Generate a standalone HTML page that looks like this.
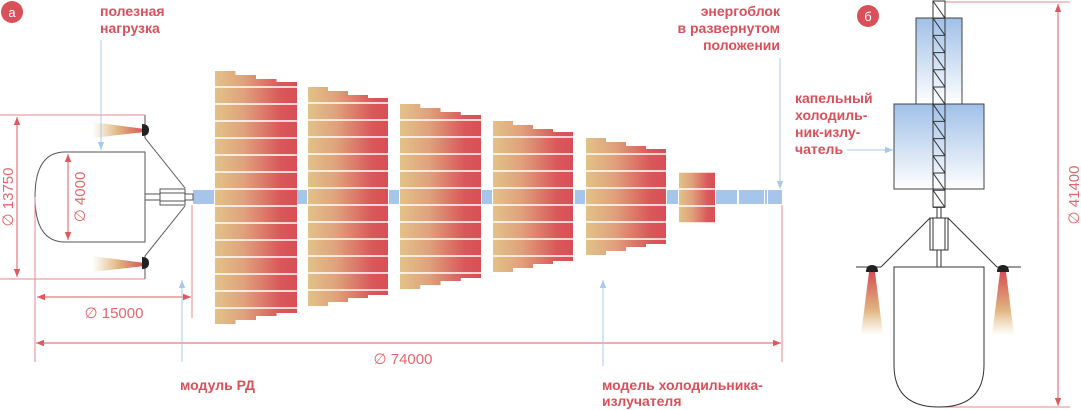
<!DOCTYPE html>
<html><head><meta charset="utf-8"><style>
html,body{margin:0;padding:0;background:#fff;width:1081px;height:410px;overflow:hidden}
svg{display:block}
.lbl{font-family:"Liberation Sans",sans-serif;font-weight:bold;font-size:14px;fill:#d9505a}
.dim{font-family:"Liberation Sans",sans-serif;font-size:15px;fill:#e0676d}
</style></head><body>
<svg id="s" width="1081" height="410" viewBox="0 0 1081 410" xmlns="http://www.w3.org/2000/svg">
<defs>
<linearGradient id="rg" x1="0" y1="0" x2="1" y2="0">
<stop offset="0" stop-color="#e2c288"/><stop offset="0.35" stop-color="#e0a27c"/><stop offset="0.8" stop-color="#d9585a"/><stop offset="1" stop-color="#d84f55"/></linearGradient>
<linearGradient id="flL" x1="0" y1="0" x2="1" y2="0">
<stop offset="0" stop-color="#e2c288" stop-opacity="0"/><stop offset="0.5" stop-color="#e0b480"/><stop offset="1" stop-color="#d84f55"/></linearGradient>
<linearGradient id="flD" x1="0" y1="0" x2="0" y2="1">
<stop offset="0" stop-color="#d84f55"/><stop offset="0.6" stop-color="#e0b480"/><stop offset="1" stop-color="#e2c288" stop-opacity="0"/></linearGradient>
<linearGradient id="bl" x1="0" y1="0" x2="0" y2="1">
<stop offset="0" stop-color="#a0c0e8"/><stop offset="1" stop-color="#ffffff"/></linearGradient>
<marker id="ar" viewBox="0 0 10 10" refX="10" refY="5" markerWidth="8" markerHeight="8" orient="auto-start-reverse"><path d="M0,1 L10,5 L0,9z" fill="#e0575d"/></marker>
<marker id="ab" viewBox="0 0 10 10" refX="10" refY="5" markerWidth="8" markerHeight="8" orient="auto-start-reverse"><path d="M0,1 L10,5 L0,9z" fill="#a8c8ec"/></marker>
</defs>
<g id="blocks"></g>
<!-- blue connectors -->
<g fill="#a5c5ea">
<rect x="193" y="190" width="21" height="14"/><rect x="297" y="190" width="10" height="14"/><rect x="389" y="190" width="10" height="14"/><rect x="482" y="190" width="10" height="14"/><rect x="575" y="190" width="10" height="14"/><rect x="667" y="190" width="11" height="14"/>
<rect x="716" y="190" width="21" height="14"/><rect x="739" y="190" width="25" height="14"/><rect x="765" y="190" width="2" height="14"/><rect x="768" y="190" width="14" height="14"/>
</g>
<!-- left craft -->
<g fill="none" stroke="#555" stroke-width="1">
<path d="M145,152 H65 Q35,152 35,197 Q35,242 65,242 H145 Z"/>
<path d="M145,115 V138 L185,188 M145,279 V256 L185,206"/>
<rect x="145" y="194" width="15" height="6"/>
<rect x="160" y="189" width="25" height="16"/>
<line x1="160" y1="193" x2="185" y2="193"/><line x1="160" y1="201" x2="185" y2="201"/>
<rect x="185" y="194" width="8" height="6"/>
</g>
<polygon points="92,122 145,129 145,132 92,138" fill="url(#flL)"/>
<polygon points="92,256 145,263 145,266 92,272" fill="url(#flL)"/>
<path d="M142,124 Q149,124 149,130 Q149,136 142,136Z" fill="#222"/>
<path d="M142,257 Q149,257 149,263 Q149,269 142,269Z" fill="#222"/>
<!-- dimension lines -->
<g stroke="#e8878c" stroke-width="1" fill="none">
<line x1="0" y1="115" x2="145" y2="115"/><line x1="0" y1="279" x2="145" y2="279"/>
<line x1="35" y1="197" x2="35" y2="362"/><line x1="192" y1="205" x2="192" y2="318"/>
<line x1="782" y1="205" x2="782" y2="362"/>
</g>
<g stroke="#e0575d" stroke-width="1">
<line x1="17" y1="117" x2="17" y2="277" marker-start="url(#ar)" marker-end="url(#ar)"/>
<line x1="68" y1="154" x2="68" y2="240" marker-start="url(#ar)" marker-end="url(#ar)"/>
<line x1="37" y1="297" x2="191" y2="297" marker-start="url(#ar)" marker-end="url(#ar)"/>
<line x1="36" y1="343" x2="781" y2="343" marker-start="url(#ar)" marker-end="url(#ar)"/>
<line x1="1058" y1="4" x2="1058" y2="406" marker-start="url(#ar)" marker-end="url(#ar)"/>
</g>
<g stroke="#e8878c"><line x1="945" y1="2" x2="1070" y2="2"/><line x1="940" y1="407" x2="1070" y2="407"/></g>
<text class="dim" transform="translate(13,197) rotate(-90)" text-anchor="middle">∅ 13750</text>
<text class="dim" transform="translate(85,197) rotate(-90)" text-anchor="middle">∅ 4000</text>
<text class="dim" x="114" y="318" text-anchor="middle">∅ 15000</text>
<text class="dim" x="403" y="364" text-anchor="middle">∅ 74000</text>
<text class="dim" transform="translate(1079,195) rotate(-90)" text-anchor="middle">∅ 41400</text>
<!-- blue arrows -->
<g stroke="#a8c8ec" stroke-width="1">
<line x1="101" y1="40" x2="101" y2="150" marker-end="url(#ab)"/>
<line x1="182" y1="362" x2="182" y2="280" marker-end="url(#ab)"/>
<line x1="603" y1="366" x2="603" y2="280" marker-end="url(#ab)"/>
<line x1="780" y1="58" x2="780" y2="189" marker-end="url(#ab)"/>
<line x1="847" y1="150" x2="893" y2="150" marker-end="url(#ab)"/>
</g>
<!-- labels -->
<text class="lbl" x="100" y="16">полезная</text><text class="lbl" x="100" y="33">нагрузка</text>
<text class="lbl" x="180" y="390">модуль РД</text>
<text class="lbl" x="602" y="390">модель холодильника-</text><text class="lbl" x="602" y="406">излучателя</text>
<text class="lbl" x="780" y="16" text-anchor="end">энергоблок</text>
<text class="lbl" x="780" y="33" text-anchor="end">в развернутом</text>
<text class="lbl" x="780" y="50" text-anchor="end">положении</text>
<text class="lbl" x="795" y="103">капельный</text><text class="lbl" x="795" y="120">холодиль-</text>
<text class="lbl" x="795" y="137">ник-излу-</text><text class="lbl" x="795" y="154">чатель</text>
<circle cx="12" cy="12" r="11" fill="#d9505a"/><text x="12" y="17" text-anchor="middle" font-family="Liberation Sans,sans-serif" font-size="13" fill="#fff">а</text>
<circle cx="868" cy="16" r="11" fill="#d9505a"/><text x="868" y="21" text-anchor="middle" font-family="Liberation Sans,sans-serif" font-size="13" fill="#fff">б</text>
<!-- right craft -->
<rect x="916" y="18" width="46" height="86" fill="url(#bl)" stroke="#444"/>
<rect x="894" y="104" width="90" height="85" fill="url(#bl)" stroke="#444"/>
<g fill="none" stroke="#333" stroke-width="1">
<rect x="933" y="1" width="12" height="206"/>
<path id="zz" d="M933,1"/>
<rect x="937" y="207" width="4" height="11"/>
<rect x="930" y="218" width="18" height="32"/><line x1="933" y1="218" x2="933" y2="250"/><line x1="945" y1="218" x2="945" y2="250"/>
<rect x="937" y="250" width="4" height="17"/>
<path d="M930,218 L881,267 M948,218 L997,267 M856,267 H881 M997,267 H1021"/>
<path d="M894,267 H984 V365 Q984,407 939,407 Q894,407 894,365 Z" fill="#fff"/>
</g>
<polygon points="869,272 875,272 883,335 861,335" fill="url(#flD)"/>
<polygon points="1000,272 1006,272 1014,335 992,335" fill="url(#flD)"/>
<path d="M866,272 Q866,265 872,265 Q878,265 878,272Z" fill="#222"/>
<path d="M997,272 Q997,265 1003,265 Q1009,265 1009,272Z" fill="#222"/>
</svg>
<script>
var g=document.getElementById('blocks'),ns='http://www.w3.org/2000/svg';
function el(n,a){var e=document.createElementNS(ns,n);for(var k in a)e.setAttribute(k,a[k]);return e;}
var B=[[215,297,87,13,1],[308,388,103,11,1],[400,481,120,9,1],[493,573,137,7,1],[586,666,154,5,1],[679,715,172,3,0]];
B.forEach(function(b){var x0=b[0],x1=b[1],t=b[2],n=b[3],c=b[4],bt=t+n*17,w=(x1-x0)/4,d;
 if(c){var o=[16,12,8,5];d='M'+x0+','+(t-o[0]);for(var i=0;i<4;i++){d+=' H'+(x0+w*(i+1));if(i<3)d+=' V'+(t-o[i+1]);}
 d+=' V'+(bt+o[3]);for(var i=3;i>=0;i--){d+=' H'+(x0+w*i);if(i>0)d+=' V'+(bt+o[i-1]);}d+='Z';}
 else d='M'+x0+','+t+' H'+x1+' V'+bt+' H'+x0+'Z';
 g.appendChild(el('path',{d:d,fill:'url(#rg)'}));
 for(var k=0;k<=n;k++)g.appendChild(el('line',{x1:x0,x2:x1,y1:t+k*17,y2:t+k*17,stroke:'#fff','stroke-width':1.5}));
});
var z='';for(var y=1;y<207;y+=17.2){z+='M933,'+y.toFixed(1)+' L945,'+(y+17.2).toFixed(1)+' M933,'+(y+17.2).toFixed(1)+' H945 ';}
document.getElementById('zz').setAttribute('d',z);
</script>
</body></html>
